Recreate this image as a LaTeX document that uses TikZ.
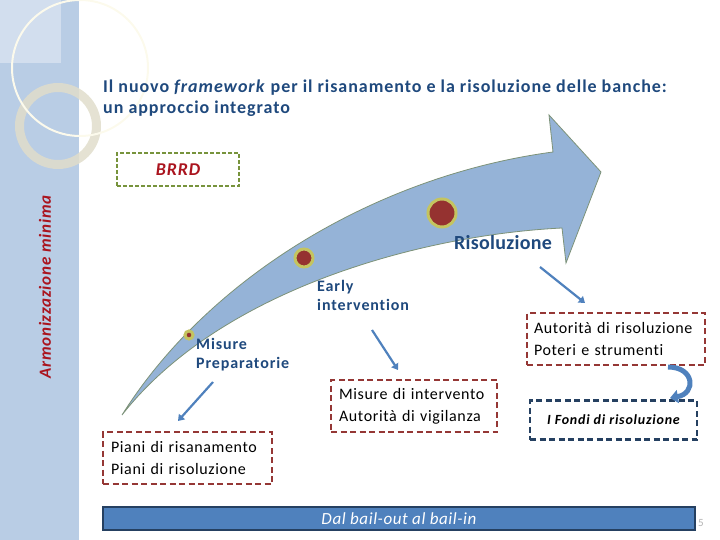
\documentclass[tikz,border=0pt]{standalone}
\usepackage{fontspec}
\setmainfont{Carlito}[Ligatures={NoCommon,NoDiscretionary}]
\usetikzlibrary{positioning,arrows.meta,calc}
\definecolor{panelblue}{RGB}{185,205,229}
\definecolor{paneltop}{RGB}{210,222,238}
\definecolor{ringgray}{RGB}{224,221,203}
\definecolor{ringwhite}{RGB}{252,250,236}
\definecolor{arrowblue}{RGB}{149,179,215}
\definecolor{arrowedge}{RGB}{125,146,120}
\definecolor{dotred}{RGB}{149,50,48}
\definecolor{halo}{RGB}{196,196,96}
\definecolor{titleblue}{RGB}{31,73,125}
\definecolor{boxred}{RGB}{149,55,53}
\definecolor{brrdgreen}{RGB}{119,147,60}
\definecolor{darkred}{RGB}{170,20,30}
\definecolor{steelblue}{RGB}{79,129,189}
\definecolor{navy}{RGB}{37,64,97}
\newcommand{\spaced}[1]{\addfontfeatures{LetterSpace=#1}}

\begin{document}
\begin{tikzpicture}[x=1pt, y=-1pt,
    redbox/.style={draw=boxred, line width=2.4pt, dash pattern=on 6pt off 3.5pt, inner xsep=8pt, inner ysep=0pt, align=left, font=\fontsize{16}{22}\selectfont\spaced{4}},
    bluebox/.style={draw=navy, line width=2.4pt, dash pattern=on 6pt off 3.5pt, inner sep=0pt, align=center},
    stage/.style={text=titleblue, font=\bfseries\fontsize{16}{19.5}\selectfont\spaced{5.5}, align=left, inner sep=0pt},
    dot/.style={circle, fill=dotred, inner sep=0pt, draw=halo, opacity=1},
    link/.style={draw=steelblue, line width=2.2pt, -{Triangle[width=8pt,length=6pt]}}]

    \useasboundingbox (0,0) rectangle (720,540);

    \fill[panelblue] (0,0) rectangle (79,540);
    \fill[paneltop] (0,0) rectangle (61,63);
    \draw[ringgray, line width=9pt, opacity=.85] (58,126) circle (38.5pt);
    \draw[ringwhite, line width=2pt] (80,68) circle (68pt);

    \node[text=titleblue, font=\bfseries\fontsize{18}{20.5}\selectfont\spaced{5.3}, align=left, anchor=north west, inner sep=0pt] (title) at (103,80)
        {Il nuovo \textit{framework} per il risanamento e la risoluzione delle banche:\\un approccio integrato};

    \node[rotate=90, text=darkred, font=\bfseries\itshape\fontsize{17}{18}\selectfont\spaced{4.3}] (armon) at (45,287) {Armonizzazione minima};

    \node[draw=brrdgreen, line width=2.5pt, dash pattern=on 4pt off 2pt, minimum width=122, minimum height=33, text=darkred, font=\bfseries\itshape\fontsize{18}{18}\selectfont\spaced{4.7}] (brrd) at (178,169.5) {BRRD};

    \filldraw[fill=arrowblue, draw=arrowedge, line width=.8pt]
        (122,415) .. controls (210,275) and (380,175) .. (553,152)
        -- (549,115) -- (601,172) -- (566,263) -- (562,228)
        .. controls (420,235) and (220,290) .. (122,415) -- cycle;

    \foreach \x/\y/\r [count=\c] in {189/335/8, 304/258/18, 442/213/28} {
        \node[dot, minimum size=\r, line width=3pt] (d\c) at (\x,\y) {};
    }

    \node[stage, anchor=north west] (prep) at (196,338) {Misure\\Preparatorie};
    \node[stage, anchor=north west] (early) at (317,280) {Early\\intervention};
    \node[stage, font=\bfseries\fontsize{20}{20}\selectfont\spaced{1.5}] (risol) at (503,243) {Risoluzione};

    \node[redbox, minimum height=52, text width=153] (piani) at (187.5,458) {Piani di risanamento\\Piani di risoluzione};
    \node[redbox, minimum height=52, text width=150] (misure) at (414,406) {Misure di intervento\\Autorità di vigilanza};
    \node[redbox, minimum height=52, text width=164, inner xsep=7pt] (autorita) at (616,339) {Autorità di risoluzione\\Poteri e strumenti};
    \node[bluebox, minimum width=167, minimum height=39, font=\bfseries\itshape\fontsize{14}{14}\selectfont\spaced{5.6}] (fondi) at (613.5,420) {I Fondi di risoluzione};

    \coordinate (a1) at (213,382);
    \coordinate (b1) at (178,421);
    \coordinate (a2) at (372,330);
    \coordinate (b2) at (398,370);
    \coordinate (a3) at (540,267);
    \coordinate (b3) at (585,303);
    \foreach \i in {1,2,3} {
        \draw[link] (a\i) -- (b\i);
    }

    \coordinate (c1) at (668,367);
    \coordinate (c2) at (670,398);
    \draw[steelblue, line width=5pt, -{Triangle[width=13pt,length=8pt]}] (c1) to[out=0, in=10, looseness=2.2] (c2);

    \node[text=gray!60, font=\fontsize{11}{12}\selectfont] (page) at (701,523) {5};
    \node[fill=steelblue, draw=navy, line width=2pt, minimum width=592, minimum height=23, inner sep=0pt, text=white, font=\itshape\fontsize{17}{17}\selectfont\spaced{3.4}] (bar) at (399,518.5) {Dal bail-out al bail-in};

\end{tikzpicture}
\end{document}
